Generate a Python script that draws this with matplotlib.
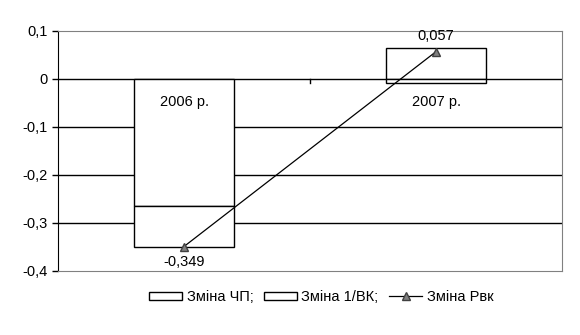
import numpy as np
import matplotlib
matplotlib.use("Agg")
import matplotlib.pyplot as plt

plt.rcParams["font.family"] = ["Liberation Sans", "DejaVu Sans"]

years = ["2006 р.", "2007 р."]
zmina_chp = [-0.265, 0.065]
zmina_vk = [-0.084, -0.008]
zmina_rvk = [-0.349, 0.057]
rvk_labels = ["-0,349", "0,057"]
yticks = [0.1, 0, -0.1, -0.2, -0.3, -0.4]
ytick_labels = ["0,1", "0", "-0,1", "-0,2", "-0,3", "-0,4"]


def main():
    fig = plt.figure(figsize=(5.8, 3.35), dpi=100)
    ax = fig.add_axes([58 / 580, 1 - 271 / 335, 504 / 580, 240 / 335])
    x = np.arange(len(years))
    w = 0.4

    # excel-style stacking: positives up from 0, negatives down from 0
    chp = np.array(zmina_chp)
    vk = np.array(zmina_vk)
    base_vk = np.where(np.sign(vk) == np.sign(chp), chp, 0)
    ax.bar(x, chp, w, color="white", edgecolor="black", lw=1, zorder=3,
           label="Зміна ЧП;")
    ax.bar(x, vk, w, bottom=base_vk, color="white", edgecolor="black", lw=1,
           zorder=3, label="Зміна 1/ВК;")
    ax.plot(x, zmina_rvk, color="black", lw=0.9, marker="^", ms=6,
            mfc="#808080", mec="#404040", zorder=4, label="Зміна Рвк")

    for xi, v, t in zip(x, zmina_rvk, rvk_labels):
        off = -0.018 if v < 0 else 0.018
        ax.text(xi, v + off, t, ha="center", va="top" if v < 0 else "bottom",
                fontsize=10.5, zorder=5)

    for xi, t in zip(x, years):
        ax.text(xi, -0.048, t, ha="center", va="center", fontsize=10.5, zorder=5)

    ax.set_xlim(-0.5, 1.5)
    ax.set_ylim(-0.4, 0.1)
    ax.set_yticks(yticks)
    ax.set_yticklabels(ytick_labels, fontsize=10.5)
    ax.set_xticks([])
    for y in [-0.1, -0.2, -0.3]:
        ax.axhline(y, color="black", lw=1, zorder=1)
    ax.axhline(0, color="black", lw=1, zorder=2)
    ax.plot([0.5, 0.5], [0, -0.008], color="black", lw=1, zorder=2)
    ax.tick_params(axis="y", direction="out", length=4, width=1)
    ax.spines["left"].set_color("black")
    for s in ["top", "right", "bottom"]:
        ax.spines[s].set_color("#808080")

    h, l = ax.get_legend_handles_labels()
    order = [l.index("Зміна ЧП;"), l.index("Зміна 1/ВК;"), l.index("Зміна Рвк")]
    fig.legend([h[i] for i in order], [l[i] for i in order], loc="center",
               bbox_to_anchor=(321 / 580, 1 - 297 / 335), ncol=3,
               frameon=False, fontsize=10.5, handlelength=2.3, handleheight=0.5,
               handletextpad=0.3, columnspacing=0.7)
    fig.savefig("out.png", dpi=100)


if __name__ == "__main__":
    main()
